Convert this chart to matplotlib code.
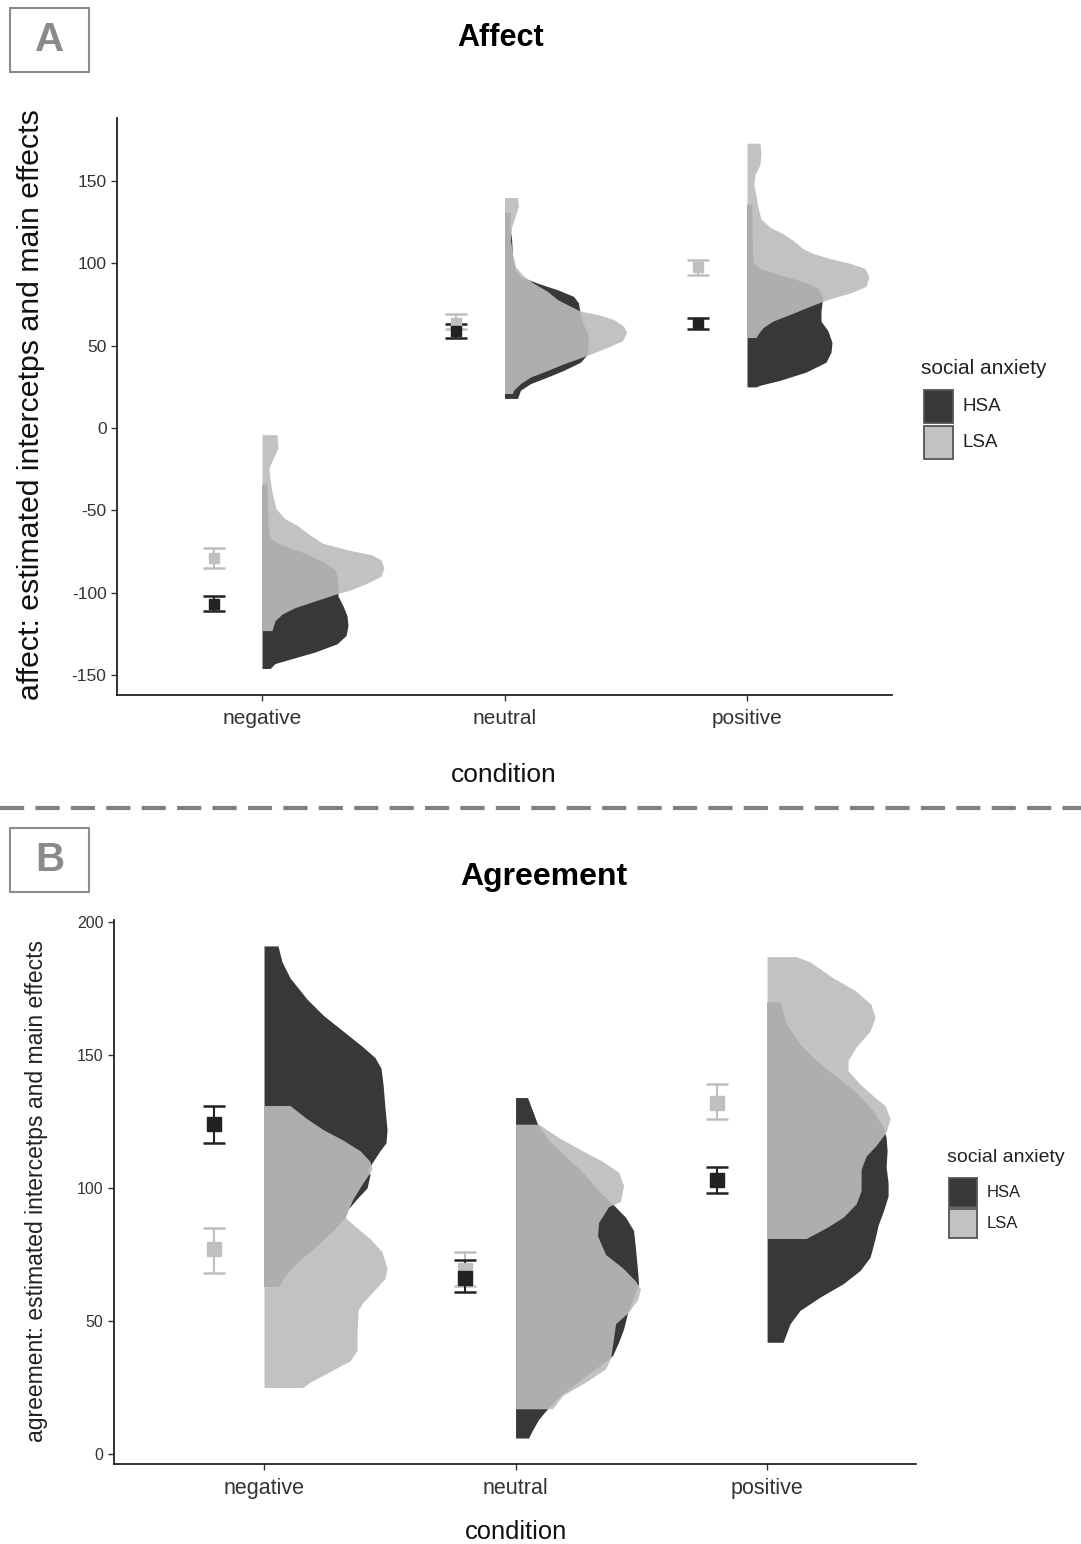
import matplotlib
matplotlib.use("Agg")
import matplotlib.pyplot as plt
from matplotlib import font_manager
from matplotlib.patches import Rectangle
from matplotlib.lines import Line2D
import numpy as np

W, H = 1081, 1544

plt.rcParams["axes.unicode_minus"] = False

names = {f.name for f in font_manager.fontManager.ttflist}
NARROW = "Liberation Sans Narrow" if "Liberation Sans Narrow" in names else "Liberation Sans"
REG = "Liberation Sans"

conditions = ["negative", "neutral", "positive"]
groups = ["HSA", "LSA"]

# ---- panel A: affect -------------------------------------------------------
# half-violin outlines: y values and density (half width)
affect_neg_hsa_y = [-34, -59, -67, -71, -76, -81, -86, -92, -98, -102, -108, -114, -120, -126, -131, -136, -140, -143, -146]
affect_neg_hsa_d = [5, 6, 8, 20, 43, 61, 73, 76, 76, 76, 81, 85, 86, 84, 75, 53, 30, 13, 8]
affect_neg_lsa_y = [-4, -12, -20, -24, -31, -39, -49, -55, -59, -65, -70, -74, -77, -80, -85, -90, -94, -98, -101, -105, -109, -113, -117, -123]
affect_neg_lsa_d = [15, 16, 10, 7, 8, 10, 14, 23, 35, 48, 61, 86, 110, 119, 122, 119, 106, 90, 73, 53, 33, 20, 13, 10]

affect_neu_hsa_y = [131, 122, 116, 104, 96, 92, 88, 84, 80, 76, 72, 64, 58, 52, 45, 40, 35, 31, 27, 23, 18]
affect_neu_hsa_d = [6, 5, 7, 8, 11, 16, 33, 53, 69, 74, 75, 78, 83, 84, 83, 76, 59, 43, 26, 16, 13]
affect_neu_lsa_y = [140, 135, 129, 122, 114, 106, 98, 93, 88, 83, 78, 74, 71, 69, 66, 62, 58, 53, 49, 45, 42, 39, 35, 31, 27, 23, 21]
affect_neu_lsa_d = [13, 14, 11, 7, 6, 8, 11, 18, 29, 43, 53, 66, 76, 93, 109, 119, 122, 118, 103, 86, 73, 59, 43, 26, 16, 9, 8]

affect_pos_hsa_y = [136, 117, 101, 97, 93, 89, 85, 79, 76, 71, 65, 59, 52, 46, 40, 34, 29, 26, 25]
affect_pos_hsa_d = [5, 5, 6, 13, 33, 56, 71, 76, 75, 74, 74, 81, 85, 84, 79, 59, 33, 13, 9]
affect_pos_lsa_y = [173, 167, 160, 154, 148, 141, 134, 127, 122, 118, 114, 109, 106, 103, 100, 97, 92, 86, 82, 79, 77, 73, 69, 65, 61, 57, 55]
affect_pos_lsa_d = [13, 14, 13, 8, 7, 9, 11, 14, 23, 36, 46, 56, 66, 83, 103, 118, 122, 119, 103, 86, 76, 59, 43, 26, 16, 11, 9]

# estimated means with lower / upper limits
affect_hsa_mean = [-107, 59, 64]
affect_hsa_low = [-111, 55, 60]
affect_hsa_high = [-102, 63, 67]
affect_lsa_mean = [-79, 64, 98]
affect_lsa_low = [-85, 60, 93]
affect_lsa_high = [-73, 69, 102]

# ---- panel B: agreement ----------------------------------------------------
agree_neg_hsa_y = [191, 185, 179, 171, 165, 159, 153, 149, 145, 139, 130, 122, 117, 114, 110, 107, 105, 100, 96, 92, 89, 84, 77, 72, 67, 63]
agree_neg_hsa_d = [14, 18, 26, 43, 59, 79, 99, 111, 117, 119, 121, 123, 122, 116, 109, 104, 106, 103, 93, 84, 81, 69, 49, 33, 21, 15]
agree_neg_lsa_y = [131, 126, 122, 118, 114, 110, 107, 102, 96, 89, 85, 81, 76, 70, 66, 61, 57, 54, 45, 39, 35, 31, 27, 25]
agree_neg_lsa_d = [26, 43, 59, 79, 96, 106, 108, 99, 89, 81, 93, 106, 118, 123, 121, 109, 99, 94, 93, 93, 86, 66, 46, 39]

agree_neu_hsa_y = [134, 129, 124, 118, 112, 106, 99, 94, 89, 84, 77, 69, 64, 59, 53, 47, 42, 37, 32, 27, 22, 17, 13, 9, 6]
agree_neu_hsa_d = [12, 17, 22, 33, 50, 67, 83, 97, 110, 118, 120, 122, 123, 118, 112, 108, 103, 97, 80, 62, 45, 32, 23, 17, 13]
agree_neu_lsa_y = [124, 119, 114, 110, 106, 101, 95, 93, 87, 82, 75, 70, 65, 62, 58, 53, 49, 41, 36, 32, 27, 22, 17]
agree_neu_lsa_d = [23, 43, 67, 87, 103, 108, 105, 93, 83, 82, 90, 107, 120, 125, 122, 112, 100, 97, 95, 90, 70, 47, 37]

agree_pos_hsa_y = [170, 162, 154, 148, 142, 136, 129, 123, 119, 114, 108, 102, 97, 91, 86, 81, 74, 69, 64, 59, 54, 49, 44, 42]
agree_pos_hsa_d = [13, 19, 33, 49, 69, 89, 106, 116, 119, 120, 119, 121, 121, 116, 111, 108, 103, 93, 76, 53, 33, 23, 18, 16]
agree_pos_lsa_y = [187, 185, 179, 174, 169, 164, 159, 153, 148, 144, 139, 134, 131, 126, 121, 116, 112, 107, 99, 94, 89, 85, 81]
agree_pos_lsa_d = [29, 43, 66, 89, 104, 108, 103, 89, 81, 81, 93, 108, 118, 123, 119, 109, 99, 94, 94, 89, 76, 59, 39]

agree_hsa_mean = [124, 66, 103]
agree_hsa_low = [117, 61, 98]
agree_hsa_high = [131, 73, 108]
agree_lsa_mean = [77, 69, 132]
agree_lsa_low = [68, 63, 126]
agree_lsa_high = [85, 76, 139]

HSA_COL = "#383838"
LSA_COL = "#bcbcbc"
HSA_PT = "#222222"
LSA_PT = "#bfbfbf"


def px_x(x):
    return x / W


def px_y(y):
    return 1 - y / H


def draw_panel(ax, violins, hsa_stats, lsa_stats, dens_scale, msize):
    for i, cond in enumerate(conditions):
        x0 = i + 1
        hy, hd = violins[cond]["HSA"]
        ax.fill_betweenx(hy, x0, x0 + np.array(hd) * dens_scale, color=HSA_COL, lw=0, zorder=2)
        ly, ld = violins[cond]["LSA"]
        ax.fill_betweenx(ly, x0, x0 + np.array(ld) * dens_scale, color=LSA_COL, alpha=0.9, lw=0, zorder=3)

    xs = np.arange(1, 4) - 0.2
    for (m, lo, hi), col in [(lsa_stats, LSA_PT), (hsa_stats, HSA_PT)]:
        m = np.array(m)
        err = [m - np.array(lo), np.array(hi) - m]
        ax.errorbar(xs, m, yerr=err, fmt="s", color=col, ecolor=col, markersize=msize,
                    capsize=8, elinewidth=1.5, capthick=1.8, zorder=4)

    ax.set_xticks([1, 2, 3])
    for s in ["top", "right"]:
        ax.spines[s].set_visible(False)
    for s in ["left", "bottom"]:
        ax.spines[s].set_linewidth(1.3)
        ax.spines[s].set_color("#222222")
    ax.tick_params(length=4, width=1, color="#333333", labelcolor="#333333")


def legend(title_xy, keys_x, keys_y, key_w, key_h, label_x, font, tsize, lsize):
    fig.text(px_x(title_xy[0]), px_y(title_xy[1]), "social anxiety", fontsize=tsize,
             family=font, va="center", ha="left", color="#222222")
    for g, ky, col in zip(groups, keys_y, [HSA_COL, "#c2c2c2"]):
        fig.add_artist(Rectangle((px_x(keys_x), px_y(ky + key_h)), key_w / W, key_h / H,
                                 transform=fig.transFigure, facecolor=col,
                                 edgecolor="#555555", lw=1.3))
        fig.text(px_x(label_x), px_y(ky + key_h / 2), g, fontsize=lsize, family=font,
                 va="center", ha="left", color="#222222")


fig = plt.figure(figsize=(W / 100, H / 100), dpi=100)

# panel A
axA = fig.add_axes([117 / W, 1 - 695 / H, 775 / W, 577 / H])
violins_a = {
    "negative": {"HSA": (affect_neg_hsa_y, affect_neg_hsa_d), "LSA": (affect_neg_lsa_y, affect_neg_lsa_d)},
    "neutral": {"HSA": (affect_neu_hsa_y, affect_neu_hsa_d), "LSA": (affect_neu_lsa_y, affect_neu_lsa_d)},
    "positive": {"HSA": (affect_pos_hsa_y, affect_pos_hsa_d), "LSA": (affect_pos_lsa_y, affect_pos_lsa_d)},
}
draw_panel(axA, violins_a,
           (affect_hsa_mean, affect_hsa_low, affect_hsa_high),
           (affect_lsa_mean, affect_lsa_low, affect_lsa_high),
           1 / 242.5, 7.5)
axA.set_xlim(0.402, 3.598)
axA.set_ylim(-162.1, 188.3)
axA.set_yticks([-150, -100, -50, 0, 50, 100, 150])
axA.set_xticklabels(conditions, family=NARROW, fontsize=15)
for t in axA.get_yticklabels():
    t.set_family(NARROW)
    t.set_fontsize(12.5)
axA.tick_params(axis="x", pad=6)

fig.text(px_x(501), px_y(38), "Affect", family=REG, weight="bold", fontsize=22,
         ha="center", va="center")
fig.text(px_x(31), px_y(405), "affect: estimated intercetps and main effects", family=REG,
         fontsize=21.8, rotation=90, ha="center", va="center", color="#111111")
fig.text(px_x(504), px_y(775), "condition", family=NARROW, fontsize=19,
         ha="center", va="center", color="#111111")
legend((921, 368), 924, [390, 426], 29, 33, 962, NARROW, 15, 13.5)

# panel B
axB = fig.add_axes([114 / W, 1 - 1464 / H, 802 / W, 544 / H])
violins_b = {
    "negative": {"HSA": (agree_neg_hsa_y, agree_neg_hsa_d), "LSA": (agree_neg_lsa_y, agree_neg_lsa_d)},
    "neutral": {"HSA": (agree_neu_hsa_y, agree_neu_hsa_d), "LSA": (agree_neu_lsa_y, agree_neu_lsa_d)},
    "positive": {"HSA": (agree_pos_hsa_y, agree_pos_hsa_d), "LSA": (agree_pos_lsa_y, agree_pos_lsa_d)},
}
draw_panel(axB, violins_b,
           (agree_hsa_mean, agree_hsa_low, agree_hsa_high),
           (agree_lsa_mean, agree_lsa_low, agree_lsa_high),
           1 / 251.5, 9.5)
axB.set_xlim(0.4036, 3.592)
axB.set_ylim(-3.76, 200.75)
axB.set_yticks([0, 50, 100, 150, 200])
axB.set_xticklabels(conditions, family=REG, fontsize=15.5)
for t in axB.get_yticklabels():
    t.set_family(NARROW)
    t.set_fontsize(11.5)
axB.tick_params(axis="x", pad=6)

fig.text(px_x(544), px_y(877), "Agreement", family=REG, weight="bold", fontsize=23,
         ha="center", va="center")
fig.text(px_x(37), px_y(1191), "agreement: estimated intercetps and main effects", family=REG,
         fontsize=16.5, rotation=90, ha="center", va="center", color="#222222")
fig.text(px_x(516), px_y(1532), "condition", family=REG, fontsize=18.4,
         ha="center", va="center", color="#111111")
legend((947, 1158), 949, [1178, 1209], 28, 29, 987, REG, 14, 12)

# panel letters
for letter, top in [("A", 8), ("B", 828)]:
    fig.add_artist(Rectangle((px_x(10), px_y(top + 64)), 79 / W, 64 / H,
                             transform=fig.transFigure, facecolor="none",
                             edgecolor="#8c8c8c", lw=1.5))
    fig.text(px_x(49.5), px_y(top + 32), letter, family=REG, weight="bold", fontsize=29,
             color="#8a8a8a", ha="center", va="center")

# separator
fig.add_artist(Line2D([0, 1], [px_y(808), px_y(808)], transform=fig.transFigure,
                      color="#808080", lw=3, dashes=(5.8, 2.7)))

fig.savefig("out.png", dpi=100)
